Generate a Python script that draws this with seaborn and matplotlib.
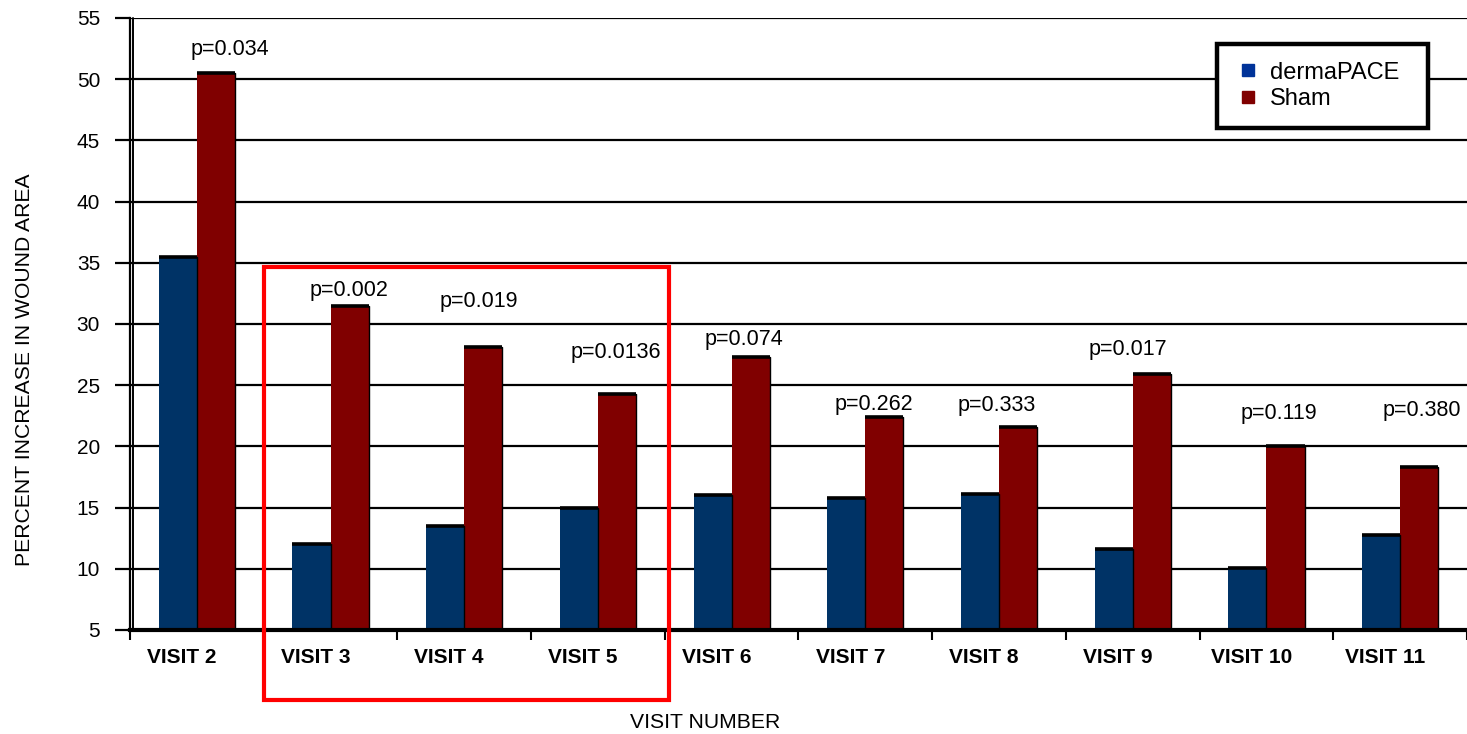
import matplotlib
matplotlib.use("Agg")
import matplotlib.pyplot as plt
import matplotlib.transforms as mtransforms
import seaborn as sns
import pandas as pd
from matplotlib.lines import Line2D
from matplotlib.patches import Rectangle

visits = ["VISIT 2", "VISIT 3", "VISIT 4", "VISIT 5", "VISIT 6",
          "VISIT 7", "VISIT 8", "VISIT 9", "VISIT 10", "VISIT 11"]
dermapace = [35.5, 12.0, 13.5, 15.0, 16.0, 15.8, 16.1, 11.6, 10.1, 12.8]
sham = [50.5, 31.5, 28.1, 24.3, 27.3, 22.4, 21.6, 25.9, 20.0, 18.3]
p_values = ["p=0.034", "p=0.002", "p=0.019", "p=0.0136", "p=0.074",
            "p=0.262", "p=0.333", "p=0.017", "p=0.119", "p=0.380"]
series_names = ["dermaPACE", "Sham"]

# annotation placement (category offset, y value)
p_dx = [0.25, 0.135, 0.11, 0.135, 0.09, 0.065, -0.02, -0.04, 0.09, 0.16]
p_y = [52.4, 32.7, 31.8, 27.7, 28.7, 23.4, 23.3, 27.9, 22.7, 22.9]

sns.set_theme(style="white")
plt.rcParams["font.family"] = ["Liberation Sans", "DejaVu Sans"]
plt.rcParams.update({"text.color": "black", "axes.labelcolor": "black",
                     "xtick.color": "black", "ytick.color": "black"})

df = pd.DataFrame({
    "visit": visits * 2,
    "value": dermapace + sham,
    "group": [series_names[0]] * len(visits) + [series_names[1]] * len(visits),
})

blue = "#003366"
red = "#800000"

fig = plt.figure(figsize=(14.67, 7.34), dpi=100)
ax = fig.add_axes([0.0886, 0.1417, 0.9114, 0.8338])

sns.barplot(data=df, x="visit", y="value", hue="group", order=visits,
            hue_order=series_names, palette=[blue, red], width=0.57,
            saturation=1, edgecolor="none", linewidth=0, ax=ax, legend=False,
            zorder=3)

# 3D-ish top and right edges
for patch in ax.patches:
    x0 = patch.get_x()
    w = patch.get_width()
    h = patch.get_height()
    ax.plot([x0, x0 + w], [h, h], color="black", lw=2.6, zorder=4,
            solid_capstyle="butt")
    ax.plot([x0 + w, x0 + w], [5, h], color="black", lw=1.0, zorder=4)

ax.set_xlim(-0.5, len(visits) - 0.5)
ax.set_ylim(5, 55)
ax.set_yticks(range(5, 56, 5))
ax.yaxis.grid(True, color="black", lw=1.6, zorder=0)
ax.xaxis.grid(False)
ax.set_axisbelow(True)

for s in ["top", "right"]:
    ax.spines[s].set_visible(False)
ax.spines["left"].set_color("black")
ax.spines["left"].set_linewidth(1.6)
ax.spines["bottom"].set_color("black")
ax.spines["bottom"].set_linewidth(3.0)
ax.spines["bottom"].set_zorder(5)

# second (wall) line of the left axis
wall = mtransforms.offset_copy(ax.get_xaxis_transform(), fig=fig, x=3.5,
                               y=0, units="dots")
ax.plot([-0.5, -0.5], [0, 1], transform=wall, color="black", lw=1.4,
        clip_on=False, zorder=5)

ax.tick_params(axis="y", which="major", length=11, width=1.6, color="black",
               pad=10.5, labelsize=15, left=True)
ax.set_xticks(range(len(visits)))
ax.set_xticklabels(visits, fontweight="bold", fontsize=15)
ax.tick_params(axis="x", which="major", length=0, pad=13)
shift = mtransforms.ScaledTranslation(-15 / 100, 0, fig.dpi_scale_trans)
for lab in ax.get_xticklabels():
    lab.set_transform(lab.get_transform() + shift)
ax.set_xticks([i - 0.5 for i in range(len(visits) + 1)], minor=True)
ax.tick_params(axis="x", which="minor", length=7, width=1.5, color="black",
               bottom=True)
ax.set_xlabel("")
ax.set_ylabel("")

for i, (txt, dx, yy) in enumerate(zip(p_values, p_dx, p_y)):
    ax.text(i + dx, yy, txt, ha="center", va="center", fontsize=15.5,
            color="black", zorder=6)

fig.text(0.0164, 0.496, "PERCENT INCREASE IN WOUND AREA", rotation=90,
         ha="center", va="center", fontsize=15.2)
fig.text(0.4806, 0.015, "VISIT NUMBER", ha="center", va="center",
         fontsize=15.2)

# highlight box
ax.add_patch(Rectangle((0.5, -0.72), 3.03, 35.4, fill=False, edgecolor="#ff0000",
                       lw=3, clip_on=False, zorder=7))

handles = [Line2D([0], [0], marker="s", linestyle="none", markersize=8,
                  markerfacecolor=c, markeredgecolor=c) for c in ["#003399", red]]
leg = ax.legend(handles, series_names, loc="upper left",
                bbox_to_anchor=(0.813, 0.8235, 0.158, 0.134), mode="expand",
                fontsize=17, frameon=True,
                fancybox=False, framealpha=1, edgecolor="black",
                handletextpad=0.4, borderpad=0.75, labelspacing=0.2,
                handlelength=1.1, borderaxespad=0)
leg.get_frame().set_linewidth(3.2)
leg.set_zorder(8)

fig.savefig("out.png", dpi=100)
